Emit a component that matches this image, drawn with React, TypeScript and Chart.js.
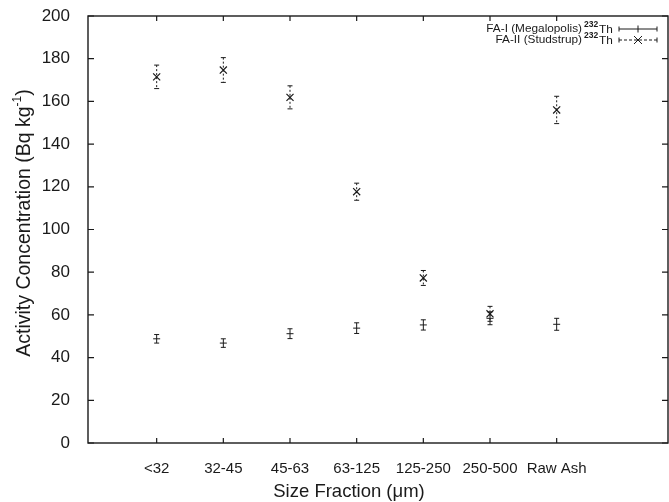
import React, { useEffect, useRef } from "react";
import { Chart, registerables } from "chart.js";

Chart.register(...registerables);

const categories = ["<32", "32-45", "45-63", "63-125", "125-250", "250-500", "Raw Ash"];
const faIValues = [48.8, 46.8, 51.2, 53.8, 55.3, 58.4, 55.6];
const faIErrors = [2.0, 2.0, 2.3, 2.5, 2.4, 3.0, 2.8];
const faIIValues = [171.5, 174.7, 161.9, 117.7, 77.3, 60.5, 156.0];
const faIIErrors = [5.5, 5.8, 5.4, 4.0, 3.5, 3.5, 6.4];
const yTicks = [0, 20, 40, 60, 80, 100, 120, 140, 160, 180, 200];

const FONT = '"Liberation Sans", Arial, sans-serif';
const INK = "#1a1a1a";

const errorBarPlugin = {
  id: "errorBars",
  afterDatasetsDraw(chart: any) {
    const ctx = chart.ctx;
    const xs = chart.scales.x;
    const ys = chart.scales.y;
    const sets = [
      { vals: faIValues, errs: faIErrors, dash: [] as number[] },
      { vals: faIIValues, errs: faIIErrors, dash: [2, 2] },
    ];
    ctx.save();
    ctx.strokeStyle = INK;
    ctx.lineWidth = 1;
    sets.forEach((s) => {
      s.vals.forEach((v, i) => {
        const px = xs.getPixelForValue(i + 1);
        const top = ys.getPixelForValue(v + s.errs[i]);
        const bot = ys.getPixelForValue(v - s.errs[i]);
        ctx.setLineDash(s.dash);
        ctx.beginPath();
        ctx.moveTo(px, top);
        ctx.lineTo(px, bot);
        ctx.stroke();
        ctx.setLineDash([]);
        ctx.beginPath();
        ctx.moveTo(px - 2.5, top);
        ctx.lineTo(px + 2.5, top);
        ctx.moveTo(px - 2.5, bot);
        ctx.lineTo(px + 2.5, bot);
        ctx.stroke();
      });
    });
    ctx.restore();
  },
};

const framePlugin = {
  id: "frame",
  afterDraw(chart: any) {
    const ctx = chart.ctx;
    const a = chart.chartArea;
    const xs = chart.scales.x;
    const ys = chart.scales.y;
    ctx.save();
    ctx.strokeStyle = INK;
    ctx.lineWidth = 1.4;
    ctx.strokeRect(a.left, a.top, a.right - a.left, a.bottom - a.top);
    ctx.lineWidth = 1.2;
    ctx.beginPath();
    yTicks.forEach((t) => {
      const py = ys.getPixelForValue(t);
      ctx.moveTo(a.left, py);
      ctx.lineTo(a.left + 6, py);
      ctx.moveTo(a.right, py);
      ctx.lineTo(a.right - 6, py);
    });
    categories.forEach((_, i) => {
      const px = xs.getPixelForValue(i + 1);
      ctx.moveTo(px, a.bottom);
      ctx.lineTo(px, a.bottom - 5);
      ctx.moveTo(px, a.top);
      ctx.lineTo(px, a.top + 5);
    });
    ctx.stroke();

    // axis titles
    ctx.fillStyle = INK;
    ctx.textBaseline = "middle";
    ctx.save();
    ctx.translate(25, 223);
    ctx.rotate(-Math.PI / 2);
    const mainFont = `19.5px ${FONT}`;
    const supFont = `12px ${FONT}`;
    const p1 = "Activity Concentration (Bq kg";
    const p2 = "-1";
    const p3 = ")";
    ctx.font = mainFont;
    const w1 = ctx.measureText(p1).width;
    const w3 = ctx.measureText(p3).width;
    ctx.font = supFont;
    const w2 = ctx.measureText(p2).width;
    const x0 = -(w1 + w2 + w3) / 2;
    ctx.textAlign = "left";
    ctx.font = mainFont;
    ctx.fillText(p1, x0, 0);
    ctx.font = supFont;
    ctx.fillText(p2, x0 + w1, -7);
    ctx.font = mainFont;
    ctx.fillText(p3, x0 + w1 + w2, 0);
    ctx.restore();

    ctx.font = `18.5px ${FONT}`;
    ctx.textAlign = "center";
    ctx.fillText("Size Fraction (\u03bcm)", 349, 492);

    // legend
    const rows = [
      { label: "FA-I (Megalopolis)", y: 29, dashed: false },
      { label: "FA-II (Studstrup)", y: 40, dashed: true },
    ];
    rows.forEach((r) => {
      ctx.font = `11.8px ${FONT}`;
      ctx.textAlign = "right";
      ctx.fillText(r.label, 582, r.y);
      ctx.font = `bold 8.5px ${FONT}`;
      ctx.textAlign = "left";
      ctx.fillText("232", 584, r.y - 4);
      ctx.font = `11.8px ${FONT}`;
      ctx.fillText("Th", 599, r.y + 1);
      ctx.lineWidth = 1;
      ctx.setLineDash(r.dashed ? [3, 2] : []);
      ctx.beginPath();
      ctx.moveTo(619, r.y);
      ctx.lineTo(657, r.y);
      ctx.stroke();
      ctx.setLineDash([]);
      ctx.beginPath();
      ctx.moveTo(619, r.y - 2.5);
      ctx.lineTo(619, r.y + 2.5);
      ctx.moveTo(657, r.y - 2.5);
      ctx.lineTo(657, r.y + 2.5);
      if (r.dashed) {
        ctx.moveTo(634, r.y - 4);
        ctx.lineTo(642, r.y + 4);
        ctx.moveTo(642, r.y - 4);
        ctx.lineTo(634, r.y + 4);
      } else {
        ctx.moveTo(638, r.y - 3.5);
        ctx.lineTo(638, r.y + 3.5);
      }
      ctx.stroke();
    });
    ctx.restore();
  },
};

export default function App() {
  const canvasRef = useRef<HTMLCanvasElement | null>(null);

  useEffect(() => {
    document.body.style.margin = "0";
    const canvas = canvasRef.current;
    if (!canvas) return;
    const chart = new Chart(canvas, {
      type: "scatter",
      data: {
        datasets: [
          {
            label: "FA-I (Megalopolis) 232Th",
            data: faIValues.map((v, i) => ({ x: i + 1, y: v })),
            pointStyle: "line",
            pointRadius: 3.5,
            borderColor: INK,
            backgroundColor: INK,
            borderWidth: 1,
            showLine: false,
          },
          {
            label: "FA-II (Studstrup) 232Th",
            data: faIIValues.map((v, i) => ({ x: i + 1, y: v })),
            pointStyle: "crossRot",
            pointRadius: 5,
            borderColor: INK,
            backgroundColor: INK,
            borderWidth: 1.2,
            showLine: false,
          },
        ],
      },
      options: {
        animation: false,
        responsive: false,
        devicePixelRatio: 1,
        layout: { autoPadding: false, padding: { top: 16, right: 1, left: 0, bottom: 0 } },
        plugins: { legend: { display: false }, tooltip: { enabled: false } },
        scales: {
          x: {
            type: "linear",
            min: -0.03,
            max: 8.67,
            grid: { display: false },
            border: { display: false },
            afterFit: (s: any) => {
              s.height = 59;
              s.paddingLeft = 0;
              s.paddingRight = 0;
            },
            afterBuildTicks: (s: any) => {
              s.ticks = categories.map((_, i) => ({ value: i + 1 }));
            },
            ticks: {
              autoSkip: false,
              maxRotation: 0,
              padding: 9,
              color: INK,
              font: { family: FONT, size: 15 },
              callback: (v: any) => categories[Number(v) - 1] ?? "",
            },
          },
          y: {
            min: 0,
            max: 200,
            grid: { display: false },
            border: { display: false },
            afterFit: (s: any) => {
              s.width = 88;
              s.paddingTop = 0;
              s.paddingBottom = 0;
            },
            ticks: {
              stepSize: 20,
              padding: 10,
              color: INK,
              font: { family: FONT, size: 17 },
            },
          },
        },
      },
      plugins: [errorBarPlugin, framePlugin],
    });
    return () => chart.destroy();
  }, []);

  return (
    <div style={{ width: 669, height: 502, background: "#fff" }}>
      <canvas ref={canvasRef} width={669} height={502} />
    </div>
  );
}
